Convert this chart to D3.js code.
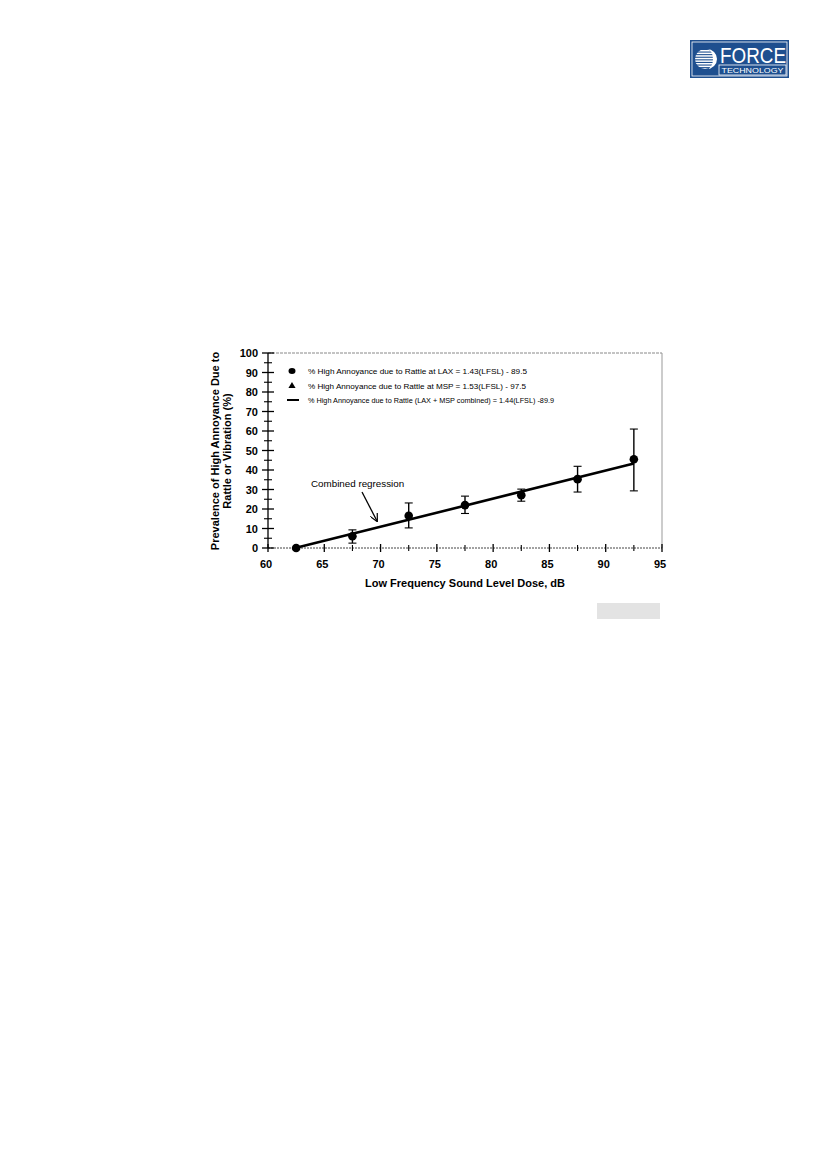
<!DOCTYPE html>
<html><head><meta charset="utf-8">
<script src="https://cdn.jsdelivr.net/npm/d3@7"></script>
<style>body{margin:0;background:#fff}svg{display:block}</style>
</head><body>
<script>
// Data
const doseLevels = [62.5, 67.5, 72.5, 77.5, 82.5, 87.5, 92.5];
const laxValues  = [0, 6.0, 16.5, 22.0, 27.1, 35.3, 45.5];
const errUpper   = [0, 9.3, 23.1, 26.6, 30.2, 41.9, 61.0];
const errLower   = [0, 2.5, 10.3, 17.7, 24.0, 28.7, 29.3];
const regX = [62.5, 92.5];
const regY = [0.1, 43.3];
const xTicks = [60, 65, 70, 75, 80, 85, 90, 95];
const xMinorTicks = [62.5, 67.5, 72.5, 77.5, 82.5, 87.5, 92.5];
const yTicks = [0, 10, 20, 30, 40, 50, 60, 70, 80, 90, 100];
const yMinorTicks = [5, 15, 25, 35, 45, 55, 65, 75, 85, 95];
const legendLabels = [
  "% High Annoyance due to Rattle at LAX = 1.43(LFSL) - 89.5",
  "% High Annoyance due to Rattle at MSP = 1.53(LFSL) - 97.5",
  "% High Annoyance due to Rattle (LAX + MSP combined) = 1.44(LFSL) -89.9"
];
const xTitle = "Low Frequency Sound Level Dose, dB";
const yTitle = ["Prevalence of High Annoyance Due to", "Rattle or Vibration (%)"];

const W = 827, H = 1169;
const svg = d3.select("body").append("svg").attr("width", W).attr("height", H);
const font = "Liberation Sans, Arial, Helvetica, sans-serif";

const x = d3.scaleLinear().domain([60, 95]).range([268, 662]);
const y = d3.scaleLinear().domain([0, 100]).range([548, 353]);

// frame top/right (grey, dotted)
svg.append("line").attr("x1", x(60)).attr("x2", x(95)).attr("y1", y(100)).attr("y2", y(100))
  .attr("stroke", "#888").attr("stroke-width", 1).attr("stroke-dasharray", "3,1");
svg.append("line").attr("x1", x(95)).attr("x2", x(95)).attr("y1", y(100)).attr("y2", y(0))
  .attr("stroke", "#999").attr("stroke-width", 1);

// x axis line
svg.append("line").attr("x1", x(60)).attr("x2", x(95)).attr("y1", y(0)).attr("y2", y(0))
  .attr("stroke", "#444").attr("stroke-width", 1).attr("stroke-dasharray", "2,1");
// y axis line
svg.append("line").attr("x1", x(60)).attr("x2", x(60)).attr("y1", y(100)).attr("y2", y(0))
  .attr("stroke", "#000").attr("stroke-width", 1.3);

// y ticks
svg.selectAll(".ymaj").data(yTicks).enter().append("line")
  .attr("x1", x(60) - 6).attr("x2", x(60) + 6).attr("y1", d => y(d)).attr("y2", d => y(d))
  .attr("stroke", "#000").attr("stroke-width", 1.3);
svg.selectAll(".ymin").data(yMinorTicks).enter().append("line")
  .attr("x1", x(60) - 4).attr("x2", x(60) + 4).attr("y1", d => y(d)).attr("y2", d => y(d))
  .attr("stroke", "#000").attr("stroke-width", 1.1);
svg.selectAll(".ylab").data(yTicks).enter().append("text")
  .attr("x", 258).attr("y", d => y(d) + 4).attr("text-anchor", "end")
  .attr("font-family", font).attr("font-size", 11).attr("font-weight", "bold")
  .text(d => d);

// x ticks
svg.selectAll(".xmaj").data(xTicks).enter().append("line")
  .attr("x1", d => x(d)).attr("x2", d => x(d)).attr("y1", y(0) - 4).attr("y2", y(0) + 4)
  .attr("stroke", "#000").attr("stroke-width", 1.3);
svg.selectAll(".xmin").data(xMinorTicks).enter().append("line")
  .attr("x1", d => x(d)).attr("x2", d => x(d)).attr("y1", y(0) - 3).attr("y2", y(0) + 3)
  .attr("stroke", "#000").attr("stroke-width", 1.1);
svg.selectAll(".xlab").data(xTicks).enter().append("text")
  .attr("x", d => x(d) - 2).attr("y", 568).attr("text-anchor", "middle")
  .attr("font-family", font).attr("font-size", 11).attr("font-weight", "bold")
  .text(d => d);

// axis titles
svg.append("text").attr("x", 465).attr("y", 587).attr("text-anchor", "middle")
  .attr("font-family", font).attr("font-size", 11).attr("font-weight", "bold").text(xTitle);
yTitle.forEach((t, i) => {
  svg.append("text").attr("transform", `translate(${219 + i * 12},451) rotate(-90)`)
    .attr("text-anchor", "middle").attr("font-family", font).attr("font-size", 11)
    .attr("font-weight", "bold").text(t);
});

// regression line
svg.append("line").attr("x1", x(regX[0])).attr("y1", y(regY[0]))
  .attr("x2", x(regX[1])).attr("y2", y(regY[1]))
  .attr("stroke", "#000").attr("stroke-width", 2.6);

// error bars
const pts = doseLevels.map((d, i) => ({x: d, v: laxValues[i], hi: errUpper[i], lo: errLower[i]}));
const eb = svg.selectAll(".eb").data(pts.filter(p => p.hi > p.lo)).enter().append("g");
eb.append("line").attr("x1", p => x(p.x)).attr("x2", p => x(p.x))
  .attr("y1", p => y(p.hi)).attr("y2", p => y(p.lo)).attr("stroke", "#000").attr("stroke-width", 1.4);
eb.append("line").attr("x1", p => x(p.x) - 4).attr("x2", p => x(p.x) + 4)
  .attr("y1", p => y(p.hi)).attr("y2", p => y(p.hi)).attr("stroke", "#000").attr("stroke-width", 1.1);
eb.append("line").attr("x1", p => x(p.x) - 4).attr("x2", p => x(p.x) + 4)
  .attr("y1", p => y(p.lo)).attr("y2", p => y(p.lo)).attr("stroke", "#000").attr("stroke-width", 1.1);

// points
svg.selectAll(".pt").data(pts).enter().append("circle")
  .attr("cx", p => x(p.x)).attr("cy", p => y(p.v)).attr("r", 4.3).attr("fill", "#000");

// legend
const legY = [371, 386, 400];
const legLen = [219, 218, 246];
const legX = 292;
svg.append("ellipse").attr("cx", legX).attr("cy", legY[0]).attr("rx", 3.5).attr("ry", 3).attr("fill", "#000");
svg.append("path").attr("d", d3.symbol(d3.symbolTriangle, 22)()).attr("transform", `translate(${legX},${legY[1]})`).attr("fill", "#000");
svg.append("line").attr("x1", legX - 5).attr("x2", legX + 7).attr("y1", legY[2]).attr("y2", legY[2])
  .attr("stroke", "#000").attr("stroke-width", 2);
legendLabels.forEach((t, i) => {
  svg.append("text").attr("x", 308).attr("y", legY[i] + 3).attr("font-family", font)
    .attr("font-size", 8).attr("textLength", legLen[i]).attr("lengthAdjust", "spacingAndGlyphs").text(t);
});

// annotation
svg.append("text").attr("x", 311).attr("y", 487).attr("font-family", font).attr("font-size", 9.8)
  .text("Combined regression");
svg.append("defs").append("marker").attr("id", "ah").attr("viewBox", "0 0 10 10")
  .attr("refX", 9).attr("refY", 5).attr("markerWidth", 8).attr("markerHeight", 8)
  .attr("orient", "auto").attr("markerUnits", "userSpaceOnUse")
  .append("path").attr("d", "M0,0 L10,5 L0,10").attr("fill", "none").attr("stroke", "#000").attr("stroke-width", 1.5);
svg.append("line").attr("x1", 362).attr("y1", 492).attr("x2", 377).attr("y2", 521)
  .attr("stroke", "#000").attr("stroke-width", 1.3).attr("marker-end", "url(#ah)");

// grey box
svg.append("rect").attr("x", 597).attr("y", 603).attr("width", 63).attr("height", 16).attr("fill", "#e3e3e3");

// logo
const lg = svg.append("g");
const blue = "#1e4f8f";
lg.append("rect").attr("x", 690).attr("y", 40).attr("width", 99).attr("height", 38).attr("fill", blue);
lg.append("rect").attr("x", 692).attr("y", 42).attr("width", 95).attr("height", 34).attr("fill", "none")
  .attr("stroke", "#fff").attr("stroke-width", 0.8);
// globe
const gx = 705, gy = 59, gr = 10;
lg.append("clipPath").attr("id", "gc").append("circle").attr("cx", gx).attr("cy", gy).attr("r", gr);
const stripes = d3.range(-9, 10, 2.6);
lg.append("g").attr("clip-path", "url(#gc)").selectAll("rect").data(stripes).enter().append("rect")
  .attr("x", gx - gr).attr("y", d => gy + d).attr("width", 2 * gr).attr("height", 1.5).attr("fill", "#fff");
lg.append("path").attr("d", `M${gx + 2},${gy - gr} A${gr},${gr} 0 0 1 ${gx + 2},${gy + gr} A${gr * 0.6},${gr} 0 0 0 ${gx + 2},${gy - gr}Z`)
  .attr("fill", "#fff");
lg.append("text").attr("x", 720).attr("y", 63).attr("font-family", font).attr("font-size", 22)
  .attr("fill", "#fff").attr("textLength", 66).attr("lengthAdjust", "spacingAndGlyphs").text("FORCE");
lg.append("rect").attr("x", 719).attr("y", 65).attr("width", 67).attr("height", 10).attr("fill", "none")
  .attr("stroke", "#fff").attr("stroke-width", 0.8);
lg.append("text").attr("x", 752.5).attr("y", 73).attr("text-anchor", "middle").attr("font-family", font)
  .attr("font-size", 7.5).attr("fill", "#fff").attr("textLength", 62).attr("lengthAdjust", "spacingAndGlyphs").text("TECHNOLOGY");
</script>
</body></html>
